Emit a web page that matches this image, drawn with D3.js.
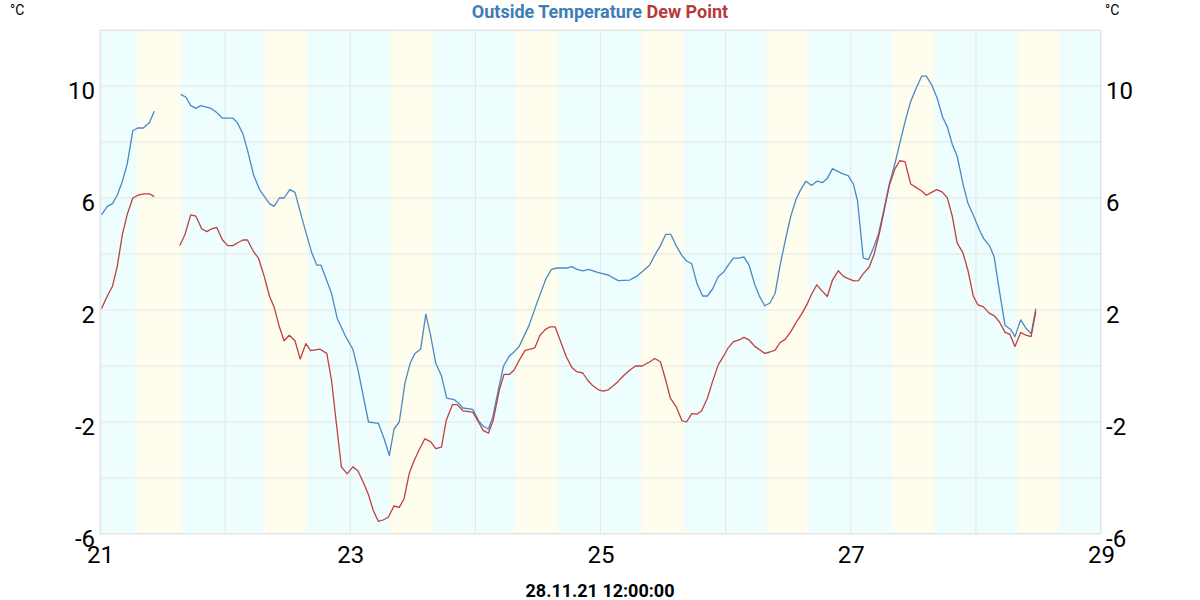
<!DOCTYPE html>
<html>
<head>
<meta charset="utf-8">
<style>
  body { margin: 0; background: #fff; }
  svg { display: block; font-family: Roboto, sans-serif; }
</style>
</head>
<body>
<script src="https://d3js.org/d3.v7.min.js"></script>
<script>
  // time range of the chart (one day per gridline)
  const startDate = new Date(2021, 10, 21);
  const endDate = new Date(2021, 10, 29);

  const yTickLabels = [10, 6, 2, -2, -6];

  // daylight bands, hours of the day, one entry per day 21..28
  const sunrise = [7.1, 7.3, 7.6, 7.7, 7.8, 7.8, 7.9, 8.0];
  const sunset = [15.7, 15.8, 15.9, 15.9, 15.9, 15.9, 16.0, 16.1];

  // [hours since 21.11 00:00, °C]; null = no reading
  const outsideTemp = [
    [0.3, 5.4], [1.4, 5.7], [2.4, 5.8], [3.3, 6.1], [4.3, 6.6], [5.2, 7.2], [6.3, 8.4], [7.2, 8.5],
    [8.3, 8.5], [9.5, 8.7], [10.4, 9.1], [12, null],
    [15.5, 9.7], [16.5, 9.6], [17.4, 9.3], [18.4, 9.2], [19.3, 9.3], [21.3, 9.2], [22.4, 9.05],
    [23.5, 8.85], [25.5, 8.85], [26.3, 8.7], [27.4, 8.3], [28.3, 7.7], [29.5, 6.8], [30.6, 6.3],
    [32.5, 5.8], [33.4, 5.7], [34.4, 6.0], [35.3, 6.0], [36.4, 6.3], [37.4, 6.2], [39.0, 5.1],
    [40.6, 4.05], [41.6, 3.6], [42.4, 3.6], [44.4, 2.6], [45.5, 1.7], [47.0, 1.1], [48.5, 0.6],
    [49.5, -0.15], [51.5, -2.0], [53.4, -2.05], [54.5, -2.6], [55.5, -3.2], [56.4, -2.25],
    [57.4, -2.0], [58.5, -0.6], [59.5, 0.1], [60.4, 0.45], [61.5, 0.6], [62.5, 1.85], [63.4, 1.1],
    [64.4, 0.1], [65.5, -0.35], [66.5, -1.15], [67.9, -1.2], [68.9, -1.35], [69.6, -1.5],
    [71.5, -1.55], [72.6, -1.95], [73.5, -2.15], [74.5, -2.25], [75.3, -1.85], [76.4, -0.85],
    [77.4, 0.0], [78.5, 0.35], [79.4, 0.5], [80.4, 0.7], [82.3, 1.45], [83.9, 2.3], [85.5, 3.1],
    [86.6, 3.45], [87.7, 3.5], [89.5, 3.5], [90.5, 3.55], [91.5, 3.45], [92.6, 3.4], [93.7, 3.45],
    [95.3, 3.35], [96.4, 3.3], [97.5, 3.25], [99.4, 3.05], [101.6, 3.07], [102.9, 3.2], [104.2, 3.4],
    [105.4, 3.6], [106.4, 3.95], [107.5, 4.3], [108.5, 4.7], [109.5, 4.7], [110.5, 4.3],
    [111.6, 3.95], [112.5, 3.75], [113.5, 3.65], [114.5, 2.95], [115.6, 2.5], [116.5, 2.5],
    [117.5, 2.75], [118.6, 3.2], [119.6, 3.35], [120.5, 3.6], [121.5, 3.85], [122.6, 3.85],
    [123.5, 3.9], [124.5, 3.6], [125.6, 2.9], [126.6, 2.45], [127.5, 2.15], [128.5, 2.25],
    [129.5, 2.6], [130.4, 3.55], [131.4, 4.45], [132.5, 5.35], [133.5, 5.95], [134.4, 6.3],
    [135.4, 6.6], [136.5, 6.45], [137.5, 6.6], [138.6, 6.55], [139.5, 6.7], [140.5, 7.05],
    [141.5, 6.95], [142.6, 6.85], [143.5, 6.8], [144.5, 6.5], [145.3, 5.9], [146.4, 3.85],
    [147.4, 3.8], [148.3, 4.2], [149.3, 4.7], [150.2, 5.45], [151.4, 6.5], [152.5, 7.25],
    [153.6, 8.1], [154.6, 8.85], [155.5, 9.45], [156.5, 9.9], [157.6, 10.35], [158.5, 10.35],
    [159.5, 10.05], [160.6, 9.55], [161.6, 8.9], [162.5, 8.55], [163.5, 7.9], [164.4, 7.5],
    [165.6, 6.45], [166.5, 5.8], [167.6, 5.35], [168.7, 4.85], [169.5, 4.55], [170.6, 4.3],
    [171.5, 3.9], [172.5, 2.7], [173.6, 1.45], [174.7, 1.3], [175.5, 1.05], [176.6, 1.65],
    [177.6, 1.35], [178.6, 1.15], [179.5, 2.05]
  ];

  const dewPoint = [
    [0.3, 2.05], [1.4, 2.5], [2.4, 2.85], [3.3, 3.55], [4.3, 4.7], [5.2, 5.4], [6.3, 6.0], [7.3, 6.1],
    [8.4, 6.15], [9.5, 6.15], [10.4, 6.05], [12, null],
    [15.3, 4.3], [16.3, 4.7], [17.4, 5.4], [18.4, 5.35], [19.5, 4.9], [20.5, 4.8], [21.4, 4.9],
    [22.4, 4.95], [23.5, 4.5], [24.5, 4.3], [25.5, 4.3], [26.4, 4.4], [27.4, 4.5], [28.3, 4.5],
    [29.4, 4.1], [30.4, 3.85], [31.5, 3.2], [32.5, 2.5], [33.4, 2.1], [34.4, 1.4], [35.3, 0.9],
    [36.3, 1.1], [37.4, 0.9], [38.4, 0.25], [39.5, 0.8], [40.4, 0.55], [42.2, 0.6], [43.5, 0.45],
    [44.4, -0.5], [45.4, -2.15], [46.3, -3.6], [47.4, -3.85], [48.5, -3.6], [49.5, -3.75],
    [50.5, -4.15], [51.5, -4.6], [52.4, -5.15], [53.4, -5.55], [54.3, -5.5], [55.3, -5.4],
    [56.4, -5.0], [57.4, -5.05], [58.3, -4.75], [59.3, -3.85], [60.2, -3.4], [61.2, -3.0],
    [62.3, -2.6], [63.4, -2.7], [64.4, -2.95], [65.5, -2.9], [66.4, -1.95], [67.6, -1.38],
    [68.5, -1.38], [69.6, -1.6], [71.5, -1.65], [72.6, -2.0], [73.5, -2.3], [74.5, -2.4],
    [75.4, -1.95], [76.6, -0.85], [77.5, -0.3], [78.5, -0.3], [79.4, -0.15], [80.4, 0.2],
    [81.5, 0.55], [82.5, 0.6], [83.4, 0.65], [84.4, 1.1], [85.4, 1.3], [86.3, 1.4], [87.3, 1.4],
    [88.4, 0.85], [89.4, 0.35], [90.5, -0.05], [91.4, -0.2], [92.6, -0.25], [93.5, -0.5],
    [94.5, -0.7], [95.6, -0.85], [96.5, -0.9], [97.5, -0.85], [98.5, -0.7], [99.4, -0.55],
    [100.4, -0.35], [101.6, -0.15], [102.7, 0.0], [104.0, 0.0], [105.5, 0.15], [106.4, 0.27],
    [107.5, 0.15], [108.5, -0.5], [109.4, -1.15], [110.5, -1.45], [111.6, -1.95], [112.5, -2.0],
    [113.5, -1.7], [114.5, -1.72], [115.4, -1.6], [116.5, -1.15], [117.5, -0.55], [118.6, 0.05],
    [119.6, 0.35], [120.5, 0.65], [121.5, 0.87], [122.6, 0.93], [123.5, 1.02], [124.5, 0.93],
    [125.6, 0.7], [126.6, 0.57], [127.5, 0.45], [128.5, 0.5], [129.5, 0.57], [130.4, 0.83],
    [131.4, 0.95], [132.5, 1.23], [133.5, 1.55], [134.6, 1.86], [135.6, 2.2], [136.5, 2.57],
    [137.5, 2.9], [138.4, 2.7], [139.5, 2.48], [140.5, 3.07], [141.6, 3.4], [142.6, 3.2],
    [143.5, 3.12], [144.6, 3.04], [145.5, 3.05], [146.4, 3.3], [147.5, 3.52], [148.5, 4.0],
    [149.5, 4.75], [150.4, 5.55], [151.4, 6.45], [152.5, 7.05], [153.4, 7.33], [154.4, 7.3],
    [155.5, 6.5], [156.5, 6.38], [157.6, 6.25], [158.5, 6.1], [159.5, 6.2], [160.5, 6.3],
    [161.5, 6.22], [162.5, 6.02], [163.5, 5.33], [164.4, 4.4], [165.5, 4.05], [166.5, 3.4],
    [167.5, 2.5], [168.4, 2.18], [169.4, 2.12], [170.6, 1.88], [171.5, 1.8], [172.5, 1.58],
    [173.6, 1.2], [174.5, 1.14], [175.5, 0.7], [176.6, 1.2], [177.6, 1.1], [178.6, 1.05],
    [179.5, 1.95]
  ];

  const width = 1200;
  const height = 600;
  const margin = { top: 30, right: 99, bottom: 66, left: 100 };
  const plotW = width - margin.left - margin.right;
  const plotH = height - margin.top - margin.bottom;

  const tempColor = '#4a89c4';
  const dewColor = '#c0403f';
  const dayColor = '#fefdee';
  const nightColor = '#eefdfd';
  const gridColor = '#e5e5e5';

  const hourToDate = (h) => new Date(startDate.getTime() + h * 3600e3);

  const svg = d3.select('body')
    .append('svg')
    .attr('width', width)
    .attr('height', height);

  const x = d3.scaleTime()
    .domain([startDate, endDate])
    .range([margin.left, margin.left + plotW]);

  const y = d3.scaleLinear()
    .domain([-6, 12])
    .range([margin.top + plotH, margin.top]);

  // day / night background as one soft gradient
  const grad = svg.append('defs')
    .append('linearGradient')
    .attr('id', 'daylight')
    .attr('gradientUnits', 'userSpaceOnUse')
    .attr('x1', margin.left).attr('x2', margin.left + plotW)
    .attr('y1', 0).attr('y2', 0);

  const stops = [{ h: 0, c: nightColor }];
  sunrise.forEach((rise, i) => {
    const base = i * 24;
    stops.push({ h: base + rise - 0.5, c: nightColor });
    stops.push({ h: base + rise + 0.5, c: dayColor });
    stops.push({ h: base + sunset[i] - 0.5, c: dayColor });
    stops.push({ h: base + sunset[i] + 0.5, c: nightColor });
  });
  stops.push({ h: 192, c: nightColor });

  grad.selectAll('stop')
    .data(stops)
    .enter()
    .append('stop')
    .attr('offset', (d) => (x(hourToDate(d.h)) - margin.left) / plotW)
    .attr('stop-color', (d) => d.c);

  svg.append('rect')
    .attr('x', margin.left)
    .attr('y', margin.top)
    .attr('width', plotW)
    .attr('height', plotH)
    .attr('fill', 'url(#daylight)');

  // grid
  svg.append('g')
    .selectAll('line')
    .data(y.ticks(9))
    .enter()
    .append('line')
    .attr('x1', margin.left)
    .attr('x2', margin.left + plotW)
    .attr('y1', (d) => y(d))
    .attr('y2', (d) => y(d))
    .attr('stroke', gridColor);

  svg.append('g')
    .selectAll('line')
    .data(x.ticks(d3.timeDay.every(1)))
    .enter()
    .append('line')
    .attr('x1', (d) => x(d))
    .attr('x2', (d) => x(d))
    .attr('y1', margin.top)
    .attr('y2', margin.top + plotH)
    .attr('stroke', gridColor);

  svg.append('rect')
    .attr('x', margin.left + 0.5)
    .attr('y', margin.top + 0.5)
    .attr('width', plotW - 1)
    .attr('height', plotH - 1)
    .attr('fill', 'none')
    .attr('stroke', gridColor);

  // lines
  const line = d3.line()
    .defined((d) => d[1] !== null)
    .x((d) => x(hourToDate(d[0])))
    .y((d) => y(d[1]));

  [[outsideTemp, tempColor], [dewPoint, dewColor]].forEach(([data, color]) => {
    svg.append('path')
      .attr('d', line(data))
      .attr('fill', 'none')
      .attr('stroke', color)
      .attr('stroke-width', 1.3)
      .attr('stroke-linejoin', 'round');
  });

  // axes
  const styleAxis = (g) => {
    g.select('.domain').remove();
    g.selectAll('line').remove();
    g.selectAll('text')
      .attr('font-family', 'Roboto, sans-serif')
      .attr('font-size', 24)
      .attr('fill', '#000');
  };

  const plainNumber = (d) => String(d); // hyphen minus like the original

  svg.append('g')
    .attr('transform', `translate(${margin.left}, 0)`)
    .call(d3.axisLeft(y).tickValues(yTickLabels).tickFormat(plainNumber).tickSize(0).tickPadding(5))
    .call(styleAxis)
    .selectAll('text').attr('dy', '0.54em');

  svg.append('g')
    .attr('transform', `translate(${margin.left + plotW}, 0)`)
    .call(d3.axisRight(y).tickValues(yTickLabels).tickFormat(plainNumber).tickSize(0).tickPadding(5))
    .call(styleAxis)
    .selectAll('text').attr('dy', '0.54em');

  svg.append('g')
    .attr('transform', `translate(0, ${margin.top + plotH})`)
    .call(d3.axisBottom(x).ticks(d3.timeDay.every(2)).tickFormat(d3.timeFormat('%d')).tickSize(0).tickPadding(12))
    .call(styleAxis);

  // texts
  svg.append('text')
    .attr('x', 10).attr('y', 15)
    .attr('font-size', 14)
    .text('°C');

  svg.append('text')
    .attr('x', margin.left + plotW + 4).attr('y', 15)
    .attr('font-size', 14)
    .text('°C');

  const title = svg.append('text')
    .attr('x', width / 2)
    .attr('y', 18)
    .attr('text-anchor', 'middle')
    .attr('font-size', 18)
    .attr('font-weight', 'bold');
  title.append('tspan').attr('fill', '#3d7db8').text('Outside Temperature ');
  title.append('tspan').attr('fill', '#b73a3a').text('Dew Point');

  svg.append('text')
    .attr('x', width / 2)
    .attr('y', 597)
    .attr('text-anchor', 'middle')
    .attr('font-size', 18)
    .attr('font-weight', 'bold')
    .text('28.11.21 12:00:00');
</script>
</body>
</html>
